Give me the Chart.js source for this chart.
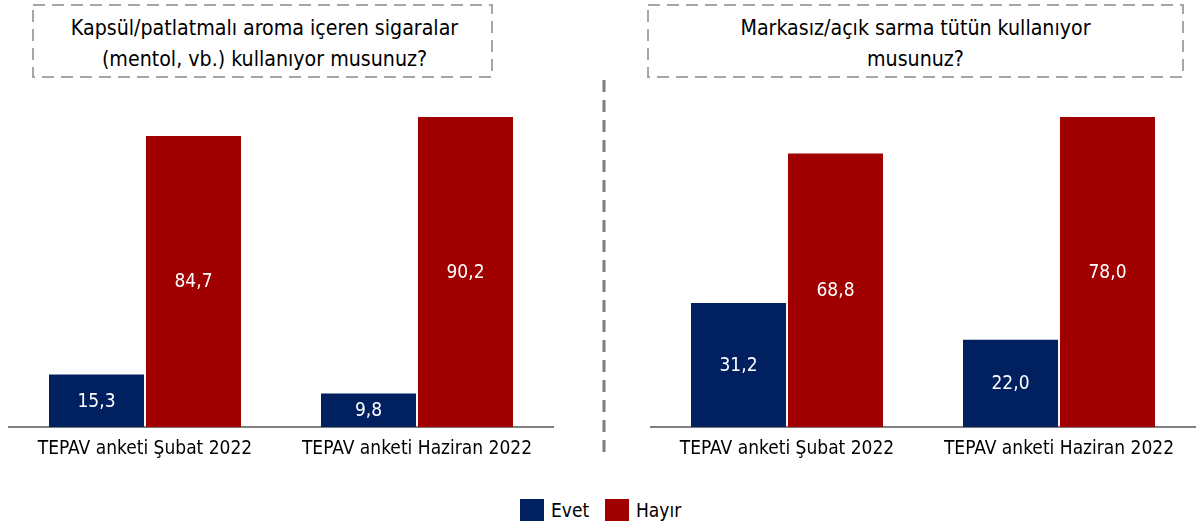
<!DOCTYPE html>
<html><head><meta charset="utf-8">
<script src="https://cdn.jsdelivr.net/npm/chart.js@4.4.1/dist/chart.umd.min.js"></script>
<style>
html,body{margin:0;padding:0;background:#fff;}
body{width:1198px;height:529px;position:relative;overflow:hidden;font-family:'DejaVu Sans Condensed','DejaVu Sans',sans-serif;}
.cw{position:absolute;top:0;height:480px;}
.title{position:absolute;top:12px;text-align:center;font-size:21.2px;line-height:31px;color:#000;}
.leg{position:absolute;top:499px;height:22px;}
.sw{position:absolute;width:24px;height:22px;}
.lt{position:absolute;top:0;font-size:19px;line-height:22px;color:#000;}
svg{position:absolute;left:0;top:0;}
</style></head><body>
<svg width="1198" height="529">
  <rect x="33" y="5" width="459" height="72" fill="none" stroke="#a6a6a6" stroke-width="2" stroke-dasharray="12 7"/>
  <rect x="648" y="5" width="535" height="72" fill="none" stroke="#a6a6a6" stroke-width="2" stroke-dasharray="12 7"/>
  <line x1="604" y1="80" x2="604" y2="456" stroke="#7f7f7f" stroke-width="3" stroke-dasharray="12 8"/>
</svg>
<div class="title" style="left:35px;width:459px;">Kapsül/patlatmalı aroma içeren sigaralar<br>(mentol, vb.) kullanıyor musunuz?</div>
<div class="title" style="left:648px;width:535px;">Markasız/açık sarma tütün kullanıyor<br>musunuz?</div>
<div class="cw" style="left:0;width:600px;"><canvas id="c1"></canvas></div>
<div class="cw" style="left:600px;width:598px;"><canvas id="c2"></canvas></div>
<div class="leg" style="left:520px;width:80px;"><div class="sw" style="left:0;background:#002060;"></div><div class="lt" style="left:31px;">Evet</div></div>
<div class="leg" style="left:605px;width:90px;"><div class="sw" style="left:0;background:#a00000;"></div><div class="lt" style="left:31px;">Hayır</div></div>
<script>
const categories = ['TEPAV anketi Şubat 2022', 'TEPAV anketi Haziran 2022'];
const seriesNames = ['Evet', 'Hayır'];
const kapsulEvet = [15.3, 9.8];
const kapsulHayir = [84.7, 90.2];
const markasizEvet = [31.2, 22.0];
const markasizHayir = [68.8, 78.0];
const colors = ['#002060', '#a00000'];
const FONT = "'DejaVu Sans Condensed','DejaVu Sans',sans-serif";

const labelPlugin = {
  id: 'barLabels',
  afterDatasetsDraw(chart) {
    const ctx = chart.ctx;
    ctx.save();
    ctx.fillStyle = '#ffffff';
    ctx.font = '19px ' + FONT;
    ctx.textAlign = 'center';
    ctx.textBaseline = 'middle';
    chart.data.datasets.forEach((ds, i) => {
      const meta = chart.getDatasetMeta(i);
      meta.data.forEach((bar, j) => {
        const v = ds.data[j];
        ctx.fillText(v.toFixed(1).replace('.', ','), bar.x, (bar.y + bar.base) / 2 + 1);
      });
    });
    ctx.restore();
  }
};

function make(id, evet, hayir, padL, padR) {
  const maxV = Math.max(...evet, ...hayir);
  new Chart(document.getElementById(id), {
    type: 'bar',
    data: {
      labels: categories,
      datasets: [
        { label: seriesNames[0], data: evet, backgroundColor: colors[0], borderWidth: 0 },
        { label: seriesNames[1], data: hayir, backgroundColor: colors[1], borderWidth: 0 }
      ]
    },
    options: {
      responsive: true,
      maintainAspectRatio: false,
      animation: false,
      events: [],
      categoryPercentage: 0.713,
      barPercentage: 0.98,
      layout: { padding: { left: padL, right: padR, top: 117, bottom: 18 } },
      plugins: { legend: { display: false }, tooltip: { enabled: false } },
      scales: {
        x: {
          grid: { display: false },
          border: { color: '#808080', width: 2 },
          ticks: { color: '#000', font: { family: FONT, size: 19 }, padding: 2, maxRotation: 0 }
        },
        y: { display: false, min: 0, max: maxV }
      }
    },
    plugins: [labelPlugin]
  });
}
make('c1', kapsulEvet, kapsulHayir, 9, 47);
make('c2', markasizEvet, markasizHayir, 51, 3);
</script>
</body></html>
